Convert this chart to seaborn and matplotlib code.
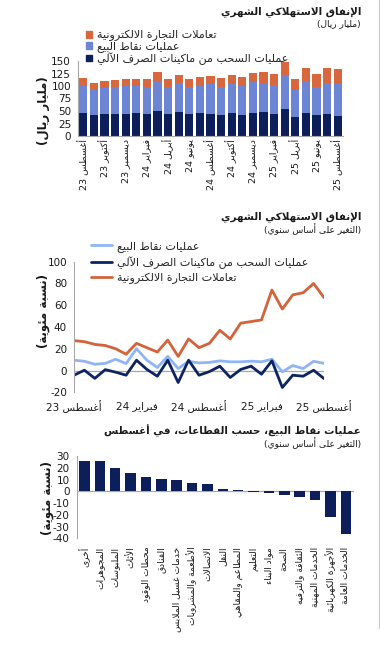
import re
import matplotlib
matplotlib.use("Agg")
import matplotlib.pyplot as plt
import matplotlib.patches as mpatches
from matplotlib.lines import Line2D
import pandas as pd
import seaborn as sns

sns.set_style("white")
plt.rcParams['font.family'] = ['DejaVu Sans']
plt.rcParams['axes.unicode_minus'] = False

# ---- Arabic shaping (matplotlib has no bidi / joining support) ----
_TABLE = [
    ('\u0621', 0xFE80, 1), ('\u0622', 0xFE81, 2), ('\u0623', 0xFE83, 2), ('\u0624', 0xFE85, 2),
    ('\u0625', 0xFE87, 2), ('\u0626', 0xFE89, 4), ('\u0627', 0xFE8D, 2), ('\u0628', 0xFE8F, 4),
    ('\u0629', 0xFE93, 2), ('\u062A', 0xFE95, 4), ('\u062B', 0xFE99, 4), ('\u062C', 0xFE9D, 4),
    ('\u062D', 0xFEA1, 4), ('\u062E', 0xFEA5, 4), ('\u062F', 0xFEA9, 2), ('\u0630', 0xFEAB, 2),
    ('\u0631', 0xFEAD, 2), ('\u0632', 0xFEAF, 2), ('\u0633', 0xFEB1, 4), ('\u0634', 0xFEB5, 4),
    ('\u0635', 0xFEB9, 4), ('\u0636', 0xFEBD, 4), ('\u0637', 0xFEC1, 4), ('\u0638', 0xFEC5, 4),
    ('\u0639', 0xFEC9, 4), ('\u063A', 0xFECD, 4), ('\u0641', 0xFED1, 4), ('\u0642', 0xFED5, 4),
    ('\u0643', 0xFED9, 4), ('\u0644', 0xFEDD, 4), ('\u0645', 0xFEE1, 4), ('\u0646', 0xFEE5, 4),
    ('\u0647', 0xFEE9, 4), ('\u0648', 0xFEED, 2), ('\u0649', 0xFEEF, 2), ('\u064A', 0xFEF1, 4),
]
FORMS = {c: (b, n) for c, b, n in _TABLE}
LAMALEF = {'\u0622': 0xFEF5, '\u0623': 0xFEF7, '\u0625': 0xFEF9, '\u0627': 0xFEFB}


def shape(s):
    out, i = [], 0
    while i < len(s):
        c = s[i]
        prev = i > 0 and s[i - 1] in FORMS and FORMS[s[i - 1]][1] == 4
        if c == '\u0644' and i + 1 < len(s) and s[i + 1] in LAMALEF:
            out.append(chr(LAMALEF[s[i + 1]] + (1 if prev else 0)))
            i += 2
            continue
        if c in FORMS:
            base, n = FORMS[c]
            nxt = n == 4 and i + 1 < len(s) and s[i + 1] in FORMS and FORMS[s[i + 1]][1] >= 2
            if n == 4:
                k = 3 if (prev and nxt) else 1 if prev else 2 if nxt else 0
            elif n == 2:
                k = 1 if prev else 0
            else:
                k = 0
            out.append(chr(base + k))
        else:
            out.append(c)
        i += 1
    return ''.join(out)


def ar(s):
    t = shape(s)[::-1]
    t = re.sub(r'[0-9]+', lambda m: m.group(0)[::-1], t)
    return t.translate(str.maketrans('()', ')('))


# ---- data ----
month_ticks = ['أغسطس 23', 'أكتوبر 23', 'ديسمبر 23', 'فبراير 24', 'أبريل 24', 'يونيو 24',
               'أغسطس 24', 'أكتوبر 24', 'ديسمبر 24', 'فبراير 25', 'أبريل 25', 'يونيو 25', 'أغسطس 25']

# monthly spending, SAR bn (Aug 23 .. Aug 25)
atm = [46, 42.7, 44.7, 45, 45, 46, 45, 50.7, 45, 48.7, 45, 45.3, 45,
       42.7, 46.7, 42.7, 46.7, 47.3, 45, 54.7, 38, 46, 42.7, 45, 40.7]
pos = [54.7, 50.3, 52.3, 53, 55.7, 54.7, 54, 60, 53.7, 57.3, 52.3, 55.4, 59,
       56, 56.6, 56.6, 60.6, 59.4, 57.7, 66.6, 53.3, 61.3, 54.6, 61, 64]
ecom = [15.3, 14, 13.7, 14.7, 13.3, 14, 15, 17.3, 15.3, 16.7, 16, 16.6, 17,
        17.3, 18.7, 18, 18.7, 21.3, 21.3, 27.4, 22.7, 28, 26, 30, 29.3]

# y/y change, %
pos_yoy = [9.5, 8.5, 5.8, 6.5, 10.4, 6.4, 20, 9.5, 2.8, 13, 1.8, 8.5, 7,
           7.5, 8.9, 8, 8, 8.6, 8, 10.4, -1.2, 4.6, 1.8, 8.5, 6.6]
atm_yoy = [-4.3, 0.3, -7.2, 0.8, -1.5, -4.3, 9.5, 1, -5.2, 9.5, -11, 9.5, -4.3,
           -1, 4, -6.4, 1, 4, -3.4, 8.9, -15.6, -4.3, -5.2, 0.3, -7.4]
ecom_yoy = [27.5, 26.5, 24, 23, 20, 15, 25, 21, 17, 28, 13, 29, 21,
            25, 37, 29, 43.5, 45, 46.5, 74, 56.5, 69.5, 71.5, 80, 67]
line_ticks = ['أغسطس 23', 'فبراير 24', 'أغسطس 24', 'فبراير 25', 'أغسطس 25']

sectors = ['أخرى', 'المجوهرات', 'الملبوسات', 'الأثاث', 'محطات الوقود', 'الفنادق',
           'خدمات غسيل الملابس', 'الأطعمة والمشروبات', 'الاتصالات', 'النقل',
           'المطاعم والمقاهي', 'التعليم', 'مواد البناء', 'الصحة', 'الثقافة والترفيه',
           'الخدمات المهنية', 'الأجهزة الكهربائية', 'الخدمات العامة']
sector_yoy = [26.1, 25.5, 19.6, 15.6, 11.9, 10.5, 9.6, 7.4, 6.0, 1.7,
              1.4, -0.3, -1.1, -3.4, -4.5, -7.4, -21.6, -36.6]

lab_ecom = 'تعاملات التجارة الالكترونية'
lab_pos = 'عمليات نقاط البيع'
lab_atm = 'عمليات السحب من ماكينات الصرف الآلي'

C_ECOM = '#d8673e'
C_POS = '#6c86d5'
C_NAVY = '#0c1f5b'
C_LBLUE = '#8fb5f6'
C_LINE_NAVY = '#0d2463'
C_LINE_OR = '#d4623a'
GRAY = '#a8a8a8'
TXT = '#1a1a1a'

W, H = 380, 645
fig = plt.figure(figsize=(W / 100, H / 100), dpi=100)


def box(l, t, r, b):
    return [l / W, 1 - b / H, (r - l) / W, (b - t) / H]


# ---------------- panel 1: stacked bars ----------------
ax1 = fig.add_axes(box(78, 61, 343, 136))
df1 = pd.DataFrame({'m': range(len(atm)), 'atm': atm, 'pos': pos, 'ecom': ecom})
df1['mid'] = df1['atm'] + df1['pos']
df1['top'] = df1['mid'] + df1['ecom']
for col, c in [('top', C_ECOM), ('mid', C_POS), ('atm', C_NAVY)]:
    sns.barplot(data=df1, x='m', y=col, color=c, saturation=1, width=0.76,
                errorbar=None, linewidth=0, ax=ax1)
ax1.set_xlim(-0.5, len(atm) - 0.5)
ax1.set_ylim(0, 150)
ax1.set_yticks(range(0, 151, 25))
ax1.set_xticks(range(0, len(atm), 2))
ax1.set_xticklabels([ar(t) for t in month_ticks], rotation=90, fontsize=6.8, color=TXT)
ax1.set_xticks([i - 0.5 for i in range(0, len(atm) + 1, 2)], minor=True)
ax1.tick_params(axis='x', which='major', length=0, pad=2)
ax1.tick_params(axis='x', which='minor', length=3, color=GRAY, width=0.8)
ax1.tick_params(axis='y', length=3, color=GRAY, width=0.8, labelsize=7.5, labelcolor=TXT, pad=2)
ax1.set_xlabel('')
ax1.set_ylabel('')
for s in ['top', 'right']:
    ax1.spines[s].set_visible(False)
for s in ['left', 'bottom']:
    ax1.spines[s].set_color(GRAY)
    ax1.spines[s].set_linewidth(0.8)
handles1 = [mpatches.Patch(color=C_ECOM), mpatches.Patch(color=C_POS), mpatches.Patch(color=C_NAVY)]
ax1.legend(handles1, [ar(lab_ecom), ar(lab_pos), ar(lab_atm)], loc='upper left',
           bbox_to_anchor=(86 / W, 1 - 30 / H), bbox_transform=fig.transFigure,
           frameon=False, fontsize=8, handlelength=0.55, handleheight=0.55,
           handletextpad=0.4, labelspacing=0.0, borderpad=0, borderaxespad=0)

# ---------------- panel 2: y/y lines ----------------
ax2 = fig.add_axes(box(74, 261.7, 324, 392.3))
xs = list(range(len(pos_yoy)))
ax2.axhline(0, color=GRAY, lw=0.9, zorder=1)
sns.lineplot(x=xs, y=pos_yoy, color=C_LBLUE, lw=2.0, ax=ax2, label=ar(lab_pos))
sns.lineplot(x=xs, y=atm_yoy, color=C_LINE_NAVY, lw=2.0, ax=ax2, label=ar(lab_atm))
sns.lineplot(x=xs, y=ecom_yoy, color=C_LINE_OR, lw=2.0, ax=ax2, label=ar(lab_ecom))
for ln in ax2.get_lines():
    ln.set_solid_joinstyle('round')
    ln.set_solid_capstyle('round')
ax2.set_xlim(0, 24)
ax2.set_ylim(-20, 100)
ax2.set_yticks(range(-20, 101, 20))
ax2.set_xticks([0, 6, 12, 18, 24])
ax2.set_xticklabels([ar(t) for t in line_ticks], fontsize=7.5, color=TXT)
ax2.tick_params(axis='x', length=0, pad=6)
ax2.tick_params(axis='y', length=3, color=GRAY, width=0.8, labelsize=7.5, labelcolor=TXT, pad=2)
for s in ['top', 'right', 'bottom']:
    ax2.spines[s].set_visible(False)
ax2.spines['left'].set_color(GRAY)
ax2.spines['left'].set_linewidth(0.8)
ax2.legend(loc='upper left', bbox_to_anchor=(91 / W, 1 - 241 / H), bbox_transform=fig.transFigure,
           frameon=False, fontsize=8, handlelength=1.9, handletextpad=0.4,
           labelspacing=0.35, borderpad=0, borderaxespad=0)

# ---------------- panel 3: sectors ----------------
ax3 = fig.add_axes(box(76.7, 456, 353.5, 538.3))
ax3.axhline(0, color=GRAY, lw=0.9, zorder=0)
sns.barplot(x=[ar(s) for s in sectors], y=sector_yoy, color=C_NAVY, saturation=1,
            width=0.68, errorbar=None, linewidth=0, ax=ax3)
ax3.set_xlim(-0.5, len(sectors) - 0.5)
ax3.set_ylim(-40, 30)
ax3.set_yticks(range(-40, 31, 10))
ax3.tick_params(axis='x', length=0, pad=6, labelsize=6.6, labelcolor=TXT, rotation=90)
ax3.tick_params(axis='y', length=3, color=GRAY, width=0.8, labelsize=7.5, labelcolor=TXT, pad=2)
for lbl in ax3.get_xticklabels():
    lbl.set_verticalalignment('top')
for s in ['top', 'right', 'bottom']:
    ax3.spines[s].set_visible(False)
ax3.spines['left'].set_color(GRAY)
ax3.spines['left'].set_linewidth(0.8)

# ---------------- titles and axis names ----------------
def ftext(x, y, s, **kw):
    fig.text(x / W, 1 - y / H, ar(s), color=TXT, **kw)


ftext(361, 12, 'الإنفاق الاستهلاكي الشهري', ha='right', va='center', fontsize=7.5, weight='bold')
ftext(361, 24, '(مليار ريال)', ha='right', va='center', fontsize=6.5)
ftext(361, 216.5, 'الإنفاق الاستهلاكي الشهري', ha='right', va='center', fontsize=7.5, weight='bold')
ftext(361, 229, '(التغير على أساس سنوي)', ha='right', va='center', fontsize=6.5)
ftext(361, 431, 'عمليات نقاط البيع، حسب القطاعات، في أغسطس', ha='right', va='center', fontsize=7.5, weight='bold')
ftext(361, 443, '(التغير على أساس سنوي)', ha='right', va='center', fontsize=6.5)

ftext(43, 111, '(مليار ريال)', ha='center', va='center', rotation=90, fontsize=8.5, weight='bold')
ftext(43, 311, '(نسبة مئوية)', ha='center', va='center', rotation=90, fontsize=8.5, weight='bold')
ftext(47, 498, '(نسبة مئوية)', ha='center', va='center', rotation=90, fontsize=8.5, weight='bold')

fig.add_artist(Line2D([379.3 / W, 379.3 / W], [1, 1 - 628 / H], transform=fig.transFigure,
                      color='#c8c8c8', lw=0.8))

fig.savefig('out.png', dpi=100)
